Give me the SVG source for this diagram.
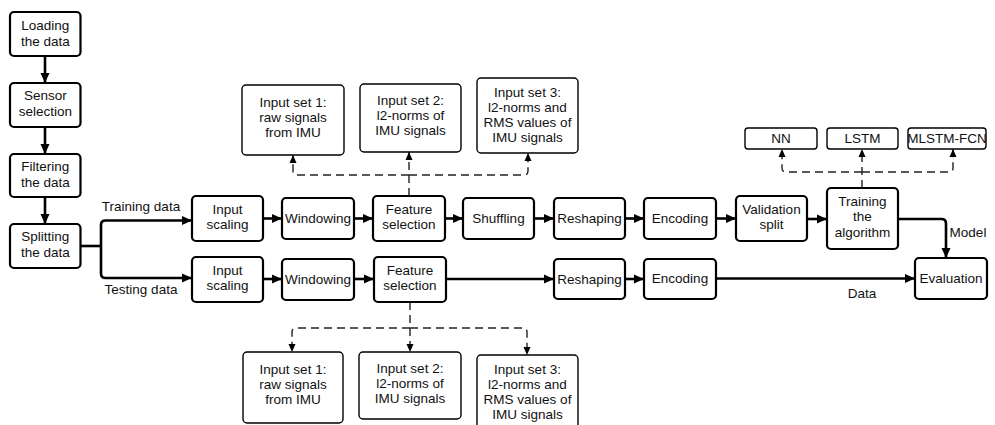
<svg xmlns="http://www.w3.org/2000/svg" width="995" height="425" viewBox="0 0 995 425">
  <defs>
    <marker id="arr" markerUnits="userSpaceOnUse" markerWidth="10" markerHeight="10" refX="10" refY="5" orient="auto">
      <path d="M0,0.5 L10,5 L0,9.5 z" fill="#000"/>
    </marker>
    <marker id="arrs" markerUnits="userSpaceOnUse" markerWidth="8" markerHeight="8" refX="8" refY="4" orient="auto">
      <path d="M0,0.5 L8,4 L0,7.5 z" fill="#000"/>
    </marker>
  </defs>
  <style>
    .box { fill: #fff; stroke: #000; stroke-width: 2.2; }
    .sub { fill: #fff; stroke: #000; stroke-width: 1.4; }
    text { font-family: "Liberation Sans", Arial, sans-serif; font-size: 13.5px; fill: #111; text-anchor: middle; }
    .flow { fill: none; stroke: #000; stroke-width: 2.6; }
    .flowa { fill: none; stroke: #000; stroke-width: 2.6; marker-end: url(#arr); }
    .dasha { fill: none; stroke: #222; stroke-width: 1.4; stroke-dasharray: 8 5; marker-end: url(#arrs); }
  </style>

  <!-- connectors -->
  <g id="connectors">
    <!-- preparation chain -->
    <path class="flowa" d="M45,56 V83"/>
    <path class="flowa" d="M45,127 V154"/>
    <path class="flowa" d="M45,197 V224"/>
    <!-- split into training / testing -->
    <path class="flow" d="M81,246 H101"/>
    <path class="flowa" d="M101,246 V225 Q101,220.5 105.5,220.5 H192"/>
    <path class="flowa" d="M101,246 V273.5 Q101,278 105.5,278 H192"/>
    <!-- training row -->
    <path class="flowa" d="M263,218.5 H282"/>
    <path class="flowa" d="M354,218.5 H373"/>
    <path class="flowa" d="M445,218.5 H463"/>
    <path class="flowa" d="M534,218.5 H554"/>
    <path class="flowa" d="M625,218.5 H644"/>
    <path class="flowa" d="M716,218.5 H736"/>
    <path class="flowa" d="M807,219 H827"/>
    <path class="flowa" d="M898,219 H941.5 Q946,219 946,223.5 V258"/>
    <!-- testing row -->
    <path class="flowa" d="M263,279 H282"/>
    <path class="flowa" d="M354,279 H374"/>
    <path class="flowa" d="M446,279 H554"/>
    <path class="flowa" d="M625,279 H644"/>
    <path class="flowa" d="M716,278.5 H915"/>
    <!-- feature selection options (training) -->
    <path class="dasha" d="M409,196 V152"/>
    <path class="dasha" d="M409,175 H297 Q293,175 293,171 V155"/>
    <path class="dasha" d="M409,175 H524 Q528,175 528,171 V153"/>
    <!-- feature selection options (testing) -->
    <path class="dasha" d="M410,302 V352"/>
    <path class="dasha" d="M410,328 H296 Q292,328 292,332 V352"/>
    <path class="dasha" d="M410,328 H523 Q527,328 527,332 V355"/>
    <!-- algorithm options -->
    <path class="dasha" d="M862,188 V149"/>
    <path class="dasha" d="M862,172 H786 Q782,172 782,168 V149"/>
    <path class="dasha" d="M862,172 H949 Q953,172 953,168 V149"/>
  </g>

  <!-- connector labels -->
  <g id="labels">
    <text x="141" y="211">Training data</text>
    <text x="141" y="294">Testing data</text>
    <text x="968" y="237">Model</text>
    <text x="862" y="298">Data</text>
  </g>

  <!-- preparation steps -->
  <g id="loading"><rect class="box" x="10" y="12" width="70.5" height="44" rx="4"/>
    <text x="45.3" y="30"><tspan x="45.3">Loading</tspan><tspan x="45.3" dy="15.7">the data</tspan></text></g>
  <g id="sensor"><rect class="box" x="10" y="83" width="70.5" height="44" rx="4"/>
    <text x="45.3" y="100"><tspan x="45.3">Sensor</tspan><tspan x="45.3" dy="15.7">selection</tspan></text></g>
  <g id="filtering"><rect class="box" x="10" y="154" width="70.5" height="43" rx="4"/>
    <text x="45.3" y="171"><tspan x="45.3">Filtering</tspan><tspan x="45.3" dy="15.7">the data</tspan></text></g>
  <g id="splitting"><rect class="box" x="10" y="224" width="70.5" height="44" rx="4"/>
    <text x="45.3" y="241"><tspan x="45.3">Splitting</tspan><tspan x="45.3" dy="15.7">the data</tspan></text></g>

  <!-- training row -->
  <g id="scaling-train"><rect class="box" x="192" y="196" width="71" height="45" rx="4"/>
    <text x="227.5" y="213.5"><tspan x="227.5">Input</tspan><tspan x="227.5" dy="15.5">scaling</tspan></text></g>
  <g id="windowing-train"><rect class="box" x="282" y="198" width="72" height="41" rx="4"/>
    <text x="318" y="223">Windowing</text></g>
  <g id="features-train"><rect class="box" x="373" y="196" width="72" height="45" rx="4"/>
    <text x="409" y="213.5"><tspan x="409">Feature</tspan><tspan x="409" dy="15.5">selection</tspan></text></g>
  <g id="shuffling"><rect class="box" x="463" y="198" width="71" height="41" rx="4"/>
    <text x="498.5" y="222.5">Shuffling</text></g>
  <g id="reshaping-train"><rect class="box" x="554" y="198" width="71" height="41" rx="4"/>
    <text x="589.5" y="222.5">Reshaping</text></g>
  <g id="encoding-train"><rect class="box" x="644" y="198" width="72" height="41" rx="4"/>
    <text x="680" y="222.5">Encoding</text></g>
  <g id="validation"><rect class="box" x="736" y="196" width="71" height="45" rx="4"/>
    <text x="771.5" y="213.5"><tspan x="771.5">Validation</tspan><tspan x="771.5" dy="15.5">split</tspan></text></g>
  <g id="training"><rect class="box" x="827" y="188" width="71" height="61" rx="4"/>
    <text x="862.5" y="205.5"><tspan x="862.5">Training</tspan><tspan x="862.5" dy="15.7">the</tspan><tspan x="862.5" dy="15.7">algorithm</tspan></text></g>

  <!-- testing row -->
  <g id="scaling-test"><rect class="box" x="192" y="257" width="71" height="45" rx="4"/>
    <text x="227.5" y="274.5"><tspan x="227.5">Input</tspan><tspan x="227.5" dy="15.5">scaling</tspan></text></g>
  <g id="windowing-test"><rect class="box" x="282" y="259" width="72" height="41" rx="4"/>
    <text x="318" y="284">Windowing</text></g>
  <g id="features-test"><rect class="box" x="374" y="257" width="72" height="45" rx="4"/>
    <text x="410" y="274.5"><tspan x="410">Feature</tspan><tspan x="410" dy="15.5">selection</tspan></text></g>
  <g id="reshaping-test"><rect class="box" x="554" y="259" width="71" height="40" rx="4"/>
    <text x="589.5" y="283.5">Reshaping</text></g>
  <g id="encoding-test"><rect class="box" x="644" y="259" width="72" height="40" rx="4"/>
    <text x="680" y="283">Encoding</text></g>
  <g id="evaluation"><rect class="box" x="915" y="258" width="72" height="41" rx="4"/>
    <text x="951" y="283">Evaluation</text></g>

  <!-- input sets (training) -->
  <g id="set1-train"><rect class="sub" x="242" y="85" width="102" height="70" rx="4"/>
    <text x="293" y="107"><tspan x="293">Input set 1:</tspan><tspan x="293" dy="15">raw signals</tspan><tspan x="293" dy="15">from IMU</tspan></text></g>
  <g id="set2-train"><rect class="sub" x="360" y="84" width="101" height="68" rx="4"/>
    <text x="410.5" y="105"><tspan x="410.5">Input set 2:</tspan><tspan x="410.5" dy="15">l2-norms of</tspan><tspan x="410.5" dy="15">IMU signals</tspan></text></g>
  <g id="set3-train"><rect class="sub" x="477" y="78" width="101" height="75" rx="4"/>
    <text x="527.5" y="97"><tspan x="527.5">Input set 3:</tspan><tspan x="527.5" dy="15">l2-norms and</tspan><tspan x="527.5" dy="15">RMS values of</tspan><tspan x="527.5" dy="15">IMU signals</tspan></text></g>

  <!-- input sets (testing) -->
  <g id="set1-test"><rect class="sub" x="243" y="352" width="100" height="71" rx="4"/>
    <text x="293" y="374"><tspan x="293">Input set 1:</tspan><tspan x="293" dy="15">raw signals</tspan><tspan x="293" dy="15">from IMU</tspan></text></g>
  <g id="set2-test"><rect class="sub" x="359" y="352" width="102" height="67" rx="4"/>
    <text x="410" y="373"><tspan x="410">Input set 2:</tspan><tspan x="410" dy="15">l2-norms of</tspan><tspan x="410" dy="15">IMU signals</tspan></text></g>
  <g id="set3-test"><rect class="sub" x="477" y="355" width="101" height="78" rx="4"/>
    <text x="527.5" y="374"><tspan x="527.5">Input set 3:</tspan><tspan x="527.5" dy="15">l2-norms and</tspan><tspan x="527.5" dy="15">RMS values of</tspan><tspan x="527.5" dy="15">IMU signals</tspan></text></g>

  <!-- algorithms -->
  <g id="nn"><rect class="sub" x="745" y="128" width="72" height="21" rx="3"/>
    <text x="781" y="143">NN</text></g>
  <g id="lstm"><rect class="sub" x="827" y="128" width="71" height="21" rx="3"/>
    <text x="862.5" y="143">LSTM</text></g>
  <g id="mlstm"><rect class="sub" x="908" y="128" width="78" height="21" rx="3"/>
    <text x="947" y="143">MLSTM-FCN</text></g>
</svg>
